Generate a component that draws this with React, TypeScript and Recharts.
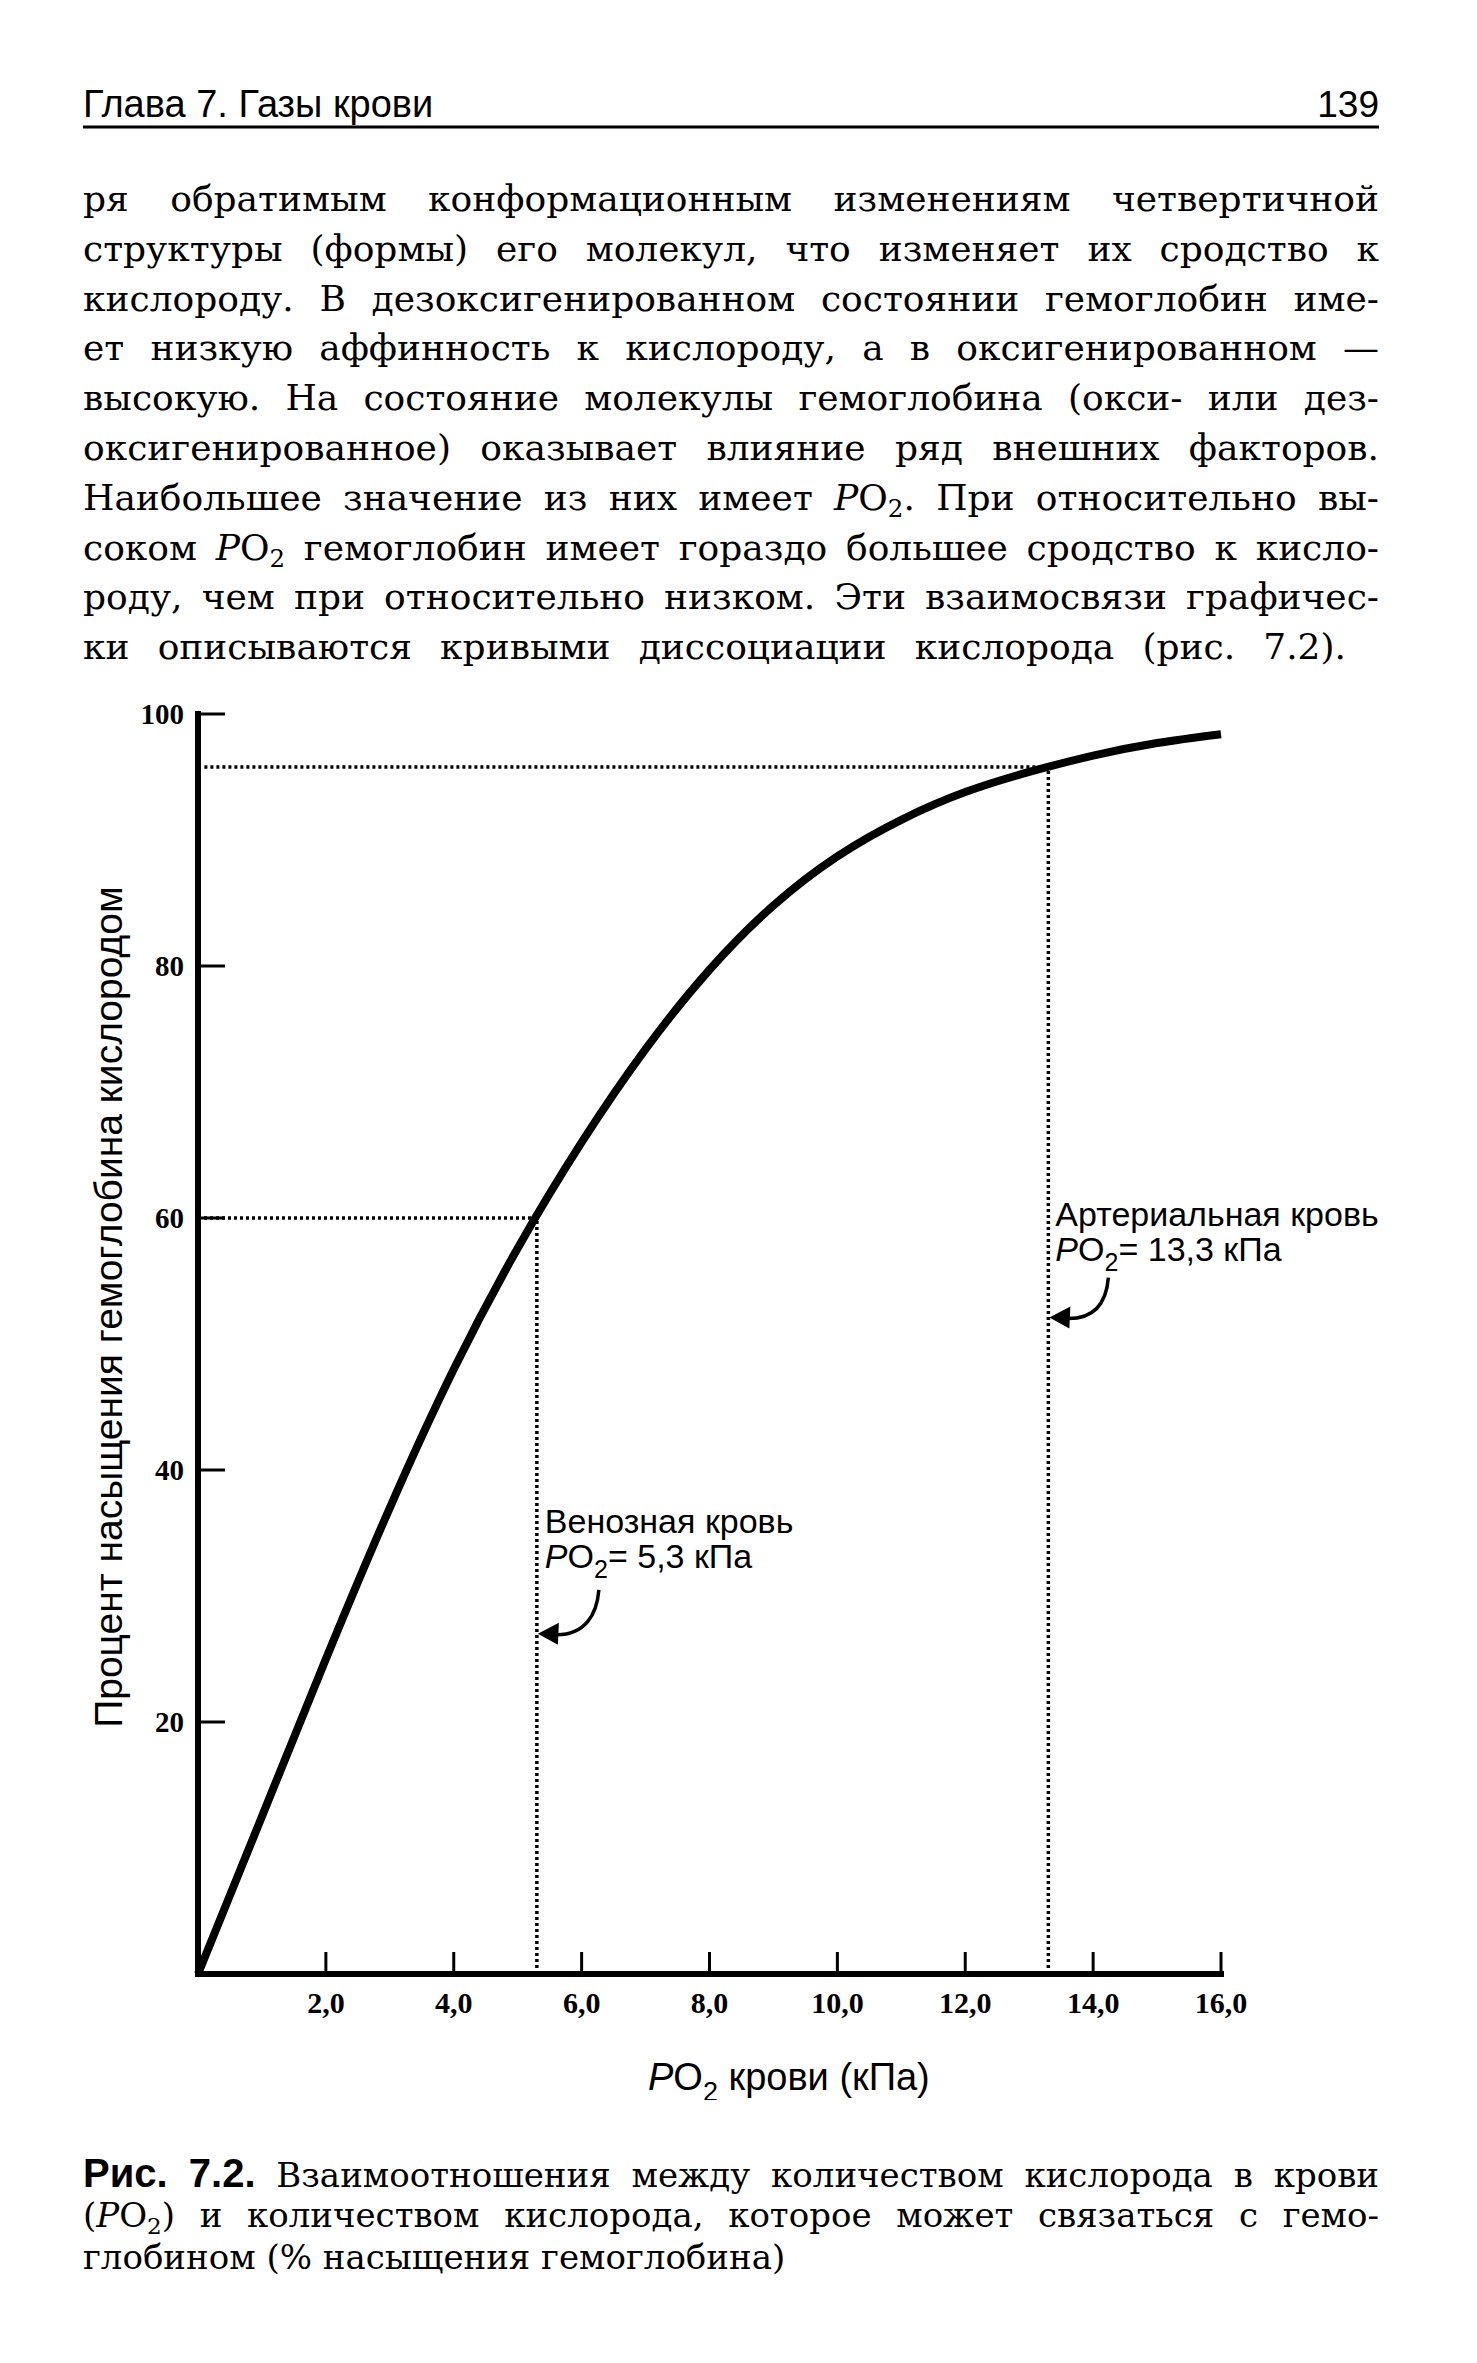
import React from 'react';
import { LineChart, Line, XAxis, YAxis, ReferenceLine, ReferenceDot, Label } from 'recharts';

// ---- data ----
const po2Kpa = [0, 1, 2, 3, 4, 5, 6, 7, 8, 9, 10, 11, 12, 13, 14, 15, 16];
const saturationPct = [0, 12.5, 25, 37, 48, 57.6, 66.0, 73.4, 79.7, 84.8, 88.7, 91.6, 93.8, 95.4, 96.7, 97.7, 98.4];
const xTicks = [2, 4, 6, 8, 10, 12, 14, 16];
const yTicks = [20, 40, 60, 80, 100];
const venous = { po2: 5.3, sat: 60, arrowSat: 27 };
const arterial = { po2: 13.3, sat: 95.8, arrowSat: 52.1 };

const chartData = po2Kpa.map((x, i) => ({ x, sat: saturationPct[i] }));

const bodyLines = [
  'ря обратимым конформационным изменениям четвертичной',
  'структуры (формы) его молекул, что изменяет их сродство к',
  'кислороду. В дезоксигенированном состоянии гемоглобин име-',
  'ет низкую аффинность к кислороду, а в оксигенированном —',
  'высокую. На состояние молекулы гемоглобина (окси- или дез-',
  'оксигенированное) оказывает влияние ряд внешних факторов.',
  'Наибольшее значение из них имеет #. При относительно вы-',
  'соком # гемоглобин имеет гораздо большее сродство к кисло-',
  'роду, чем при относительно низком. Эти взаимосвязи графичес-',
  'ки описываются кривыми диссоциации кислорода (рис. 7.2).',
];

const SANS = "'Liberation Sans', Arial, sans-serif";
const SERIF = "'DejaVu Serif', serif";
const TICKFONT = "'Liberation Serif', 'Times New Roman', serif";

const PO2 = () => (
  <span>
    <i>P</i>O<span style={{ fontSize: '0.68em', verticalAlign: '-0.3em', lineHeight: 0 }}>2</span>
  </span>
);

const withPO2 = (s: string) => {
  const parts = s.split('#');
  return parts.map((p, i) => (
    <React.Fragment key={i}>
      {p}
      {i < parts.length - 1 ? <PO2 /> : null}
    </React.Fragment>
  ));
};

const YTick = (props: any) => {
  const { x, y, payload } = props;
  return (
    <g>
      <line x1={x} y1={y} x2={x + 27} y2={y} stroke="#000" strokeWidth={3} />
      <text x={x - 14} y={y} dy="0.35em" textAnchor="end" fontFamily={TICKFONT} fontSize={29} fontWeight="bold" fill="#000">
        {payload.value}
      </text>
    </g>
  );
};

const XTick = (props: any) => {
  const { x, y, payload } = props;
  return (
    <g>
      <line x1={x} y1={y} x2={x} y2={y - 22} stroke="#000" strokeWidth={3} />
      <text x={x} y={y + 39} textAnchor="middle" fontFamily={TICKFONT} fontSize={30} fontWeight="bold" fill="#000">
        {Number(payload.value).toFixed(1).replace('.', ',')}
      </text>
    </g>
  );
};

const Callout = (props: any) => {
  const { cx, cy, title, value, textDx, l1, l2, sx, sy } = props;
  return (
    <g>
      <text x={cx + textDx} y={cy + l1} fontFamily={SANS} fontSize={34} fill="#000">{title}</text>
      <text x={cx + textDx} y={cy + l2} fontFamily={SANS} fontSize={34} fill="#000">
        <tspan fontStyle="italic">P</tspan>O<tspan dy={10} fontSize={25}>2</tspan>
        <tspan dy={-10}>= {value} кПа</tspan>
      </text>
      <path
        d={`M ${cx + sx} ${cy + sy} C ${cx + sx - 2} ${cy + sy + 25}, ${cx + sx - 14} ${cy + 1}, ${cx + 20} ${cy + 1}`}
        fill="none"
        stroke="#000"
        strokeWidth={3.5}
      />
      <polygon points={`${cx + 1},${cy} ${cx + 22},${cy - 11} ${cx + 21},${cy + 11}`} fill="#000" />
    </g>
  );
};

const dotted = { stroke: '#000', strokeWidth: 3.5, strokeDasharray: '3 3' };

export default function App() {
  return (
    <div style={{ position: 'absolute', left: 0, top: 0, width: 1477, height: 2363, background: '#fff', overflow: 'hidden' }}>
      <svg width={1477} height={140} style={{ position: 'absolute', left: 0, top: 0 }}>
        <text x={83} y={117} fontFamily={SANS} fontSize={38} fill="#000">Глава 7. Газы крови</text>
        <text x={1379} y={117} fontFamily={SANS} fontSize={37} fill="#000" textAnchor="end">139</text>
        <rect x={83} y={125.5} width={1296} height={3} fill="#000" />
      </svg>

      <div style={{ position: 'absolute', left: 83, top: 174, width: 1296, fontFamily: SERIF, fontSize: 36, lineHeight: '49.8px', color: '#000' }}>
        {bodyLines.map((l, i) => (
          <div
            key={i}
            style={{
              textAlign: 'justify',
              textAlignLast: 'justify',
              width: i === bodyLines.length - 1 ? 1263 : 1296,
              height: 49.8,
            }}
          >
            {withPO2(l)}
          </div>
        ))}
      </div>

      <div style={{ position: 'absolute', left: 0, top: 680 }}>
        <LineChart width={1477} height={1420} data={chartData} margin={{ top: 34, right: 256, bottom: 0, left: 0 }}>
          <XAxis
            dataKey="x"
            type="number"
            domain={[0, 16]}
            ticks={xTicks}
            height={126}
            tickSize={0}
            tickMargin={0}
            tickLine={false}
            axisLine={{ stroke: '#000', strokeWidth: 6, strokeLinecap: 'square' }}
            tick={<XTick />}
            interval={0}
          >
            <Label
              content={(p: any) => {
                const vb = p.viewBox || { x: 198, y: 1294 };
                return (
                  <text x={vb.x + 450} y={vb.y + 116} fontFamily={SANS} fontSize={38} fill="#000">
                    <tspan fontStyle="italic">P</tspan>O<tspan dy={11} fontSize={27}>2</tspan>
                    <tspan dy={-11}> крови (кПа)</tspan>
                  </text>
                );
              }}
            />
          </XAxis>
          <YAxis
            type="number"
            domain={[0, 100]}
            ticks={yTicks}
            width={198}
            tickSize={0}
            tickMargin={0}
            tickLine={false}
            axisLine={{ stroke: '#000', strokeWidth: 6, strokeLinecap: 'square' }}
            tick={<YTick />}
            interval={0}
          >
            <Label
              content={(p: any) => {
                const vb = p.viewBox || { x: 0, y: 34, width: 198, height: 1260 };
                const cx = vb.x + vb.width - 90;
                const cy = vb.y + vb.height / 2 - 37;
                return (
                  <g transform={`translate(${cx}, ${cy}) rotate(-90)`}>
                    <text x={0} y={0} textAnchor="middle" dominantBaseline="central" fontFamily={SANS} fontSize={39} fill="#000">
                      Процент насыщения гемоглобина кислородом
                    </text>
                  </g>
                );
              }}
            />
          </YAxis>

          <ReferenceLine segment={[{ x: 0, y: venous.sat }, { x: venous.po2, y: venous.sat }]} {...dotted} />
          <ReferenceLine segment={[{ x: venous.po2, y: 0 }, { x: venous.po2, y: venous.sat }]} {...dotted} />
          <ReferenceLine segment={[{ x: 0.1, y: arterial.sat }, { x: arterial.po2, y: arterial.sat }]} {...dotted} />
          <ReferenceLine segment={[{ x: arterial.po2, y: 0 }, { x: arterial.po2, y: arterial.sat }]} {...dotted} />

          <Line
            dataKey="sat"
            type="natural"
            stroke="#000"
            strokeWidth={8}
            dot={false}
            activeDot={false}
            isAnimationActive={false}
          />

          <ReferenceDot
            x={venous.po2}
            y={venous.arrowSat}
            r={0}
            shape={(p: any) => (
              <Callout cx={p.cx} cy={p.cy} title="Венозная кровь" value="5,3" textDx={8} l1={-101} l2={-66} sx={62} sy={-44} />
            )}
          />
          <ReferenceDot
            x={arterial.po2}
            y={arterial.arrowSat}
            r={0}
            shape={(p: any) => (
              <Callout cx={p.cx} cy={p.cy} title="Артериальная кровь" value="13,3" textDx={7} l1={-92} l2={-57} sx={60} sy={-40} />
            )}
          />
        </LineChart>
      </div>

      <div style={{ position: 'absolute', left: 83, top: 2152, width: 1296, fontFamily: SERIF, fontSize: 34, lineHeight: '42px', color: '#000' }}>
        <div style={{ textAlign: 'justify', textAlignLast: 'justify', height: 42 }}>
          <b style={{ fontFamily: SANS, fontSize: 40 }}>Рис. 7.2.</b> Взаимоотношения между количеством кислорода в крови
        </div>
        <div style={{ textAlign: 'justify', textAlignLast: 'justify', height: 42 }}>
          (<PO2 />) и количеством кислорода, которое может связаться с гемо-
        </div>
        <div style={{ height: 42 }}>глобином (% насыщения гемоглобина)</div>
      </div>
    </div>
  );
}
